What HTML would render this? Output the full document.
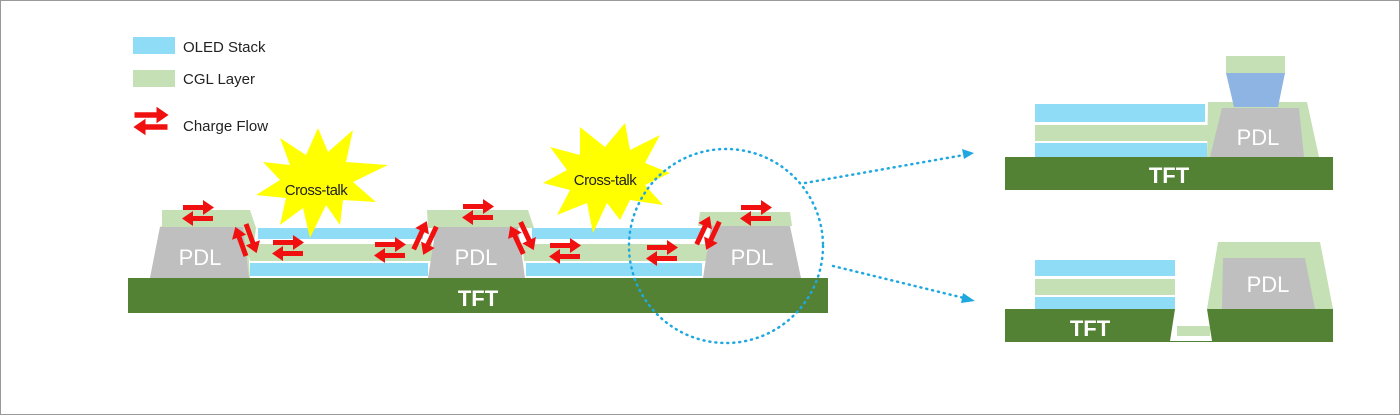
<!DOCTYPE html>
<html><head><meta charset="utf-8"><style>
html,body{margin:0;padding:0;background:#fff}
svg{display:block}
text{font-family:"Liberation Sans",Arial,sans-serif}
</style></head><body>
<svg width="1400" height="415" viewBox="0 0 1400 415" xmlns="http://www.w3.org/2000/svg">
<defs>
<g id="ap">
<path d="M-15,-8 L5,-8 L5,-13 L16,-5.5 L5,2 L5,-3 L-15,-3 Z" fill="#f01010"/>
<path d="M15,3 L-5,3 L-5,-2 L-16,5.5 L-5,13 L-5,8 L15,8 Z" fill="#f01010"/>
</g>
</defs>
<rect x="0.5" y="0.5" width="1399" height="414" fill="#fff" stroke="#999"/>
<!-- legend -->
<rect x="133" y="37" width="42" height="17" fill="#8fdcf6"/>
<text x="183" y="52" font-size="15" fill="#222">OLED Stack</text>
<rect x="133" y="70" width="42" height="17" fill="#c5e0b4"/>
<text x="183" y="84" font-size="15" fill="#222">CGL Layer</text>
<use href="#ap" transform="translate(151,121) scale(1.1)"/>
<text x="183" y="131" font-size="15" fill="#222">Charge Flow</text>

<!-- main TFT -->
<rect x="128" y="278" width="700" height="35" fill="#548235"/>
<text x="478" y="306" font-size="22" font-weight="bold" fill="#fff" text-anchor="middle">TFT</text>

<!-- layers span 1 -->
<rect x="258" y="228" width="165" height="11" fill="#8fdcf6"/>
<polygon points="246,244 432,244 436,261 250,261" fill="#c5e0b4"/>
<rect x="250" y="263" width="178" height="13" fill="#8fdcf6"/>
<!-- layers span 2 -->
<rect x="532" y="228" width="170" height="11" fill="#8fdcf6"/>
<polygon points="522,244 706,244 708,261 524,261" fill="#c5e0b4"/>
<rect x="526" y="263" width="176" height="13" fill="#8fdcf6"/>

<!-- PDLs -->
<polygon points="162,210 250,210 256,228 254,244 248,244 250,278 150,278 160,227 162,226" fill="#c5e0b4"/>
<polygon points="160,227 243,227 249,278 150,278" fill="#bfbfbf"/>
<text x="200" y="265" font-size="22" fill="#fff" text-anchor="middle">PDL</text>

<polygon points="427,210 528,210 534,228 428,228" fill="#c5e0b4"/>
<polygon points="436,227 518,227 525,278 428,278" fill="#bfbfbf"/>
<text x="476" y="265" font-size="22" fill="#fff" text-anchor="middle">PDL</text>

<polygon points="700,212 790,212 792,226 698,226" fill="#c5e0b4"/>
<polygon points="711,226 790,226 801,278 703,278" fill="#bfbfbf"/>
<text x="752" y="265" font-size="22" fill="#fff" text-anchor="middle">PDL</text>

<!-- starbursts -->
<polygon transform="translate(318,180)" fill="#ffff00" points="0,-52 10,-28 35,-50 28,-18 70,-15 35,2 58,22 25,20 22,45 8,25 -8,58 -15,28 -38,45 -32,18 -62,15 -38,0 -55,-18 -28,-15 -38,-42 -12,-25"/>
<text x="316" y="195" font-size="15" fill="#222" text-anchor="middle" letter-spacing="-0.5">Cross-talk</text>
<polygon transform="translate(605,175)" fill="#ffff00" points="20,-52 25,-25 55,-40 40,-12 65,-2 40,10 58,30 25,25 15,45 2,28 -12,58 -18,28 -48,40 -35,15 -62,8 -38,-5 -55,-28 -25,-20 -25,-48 0,-28"/>
<text x="605" y="185" font-size="15" fill="#222" text-anchor="middle" letter-spacing="-0.5">Cross-talk</text>

<!-- arrows -->
<use href="#ap" transform="translate(198,213)"/>
<use href="#ap" transform="translate(246,240) rotate(70)"/>
<use href="#ap" transform="translate(288,248)"/>
<use href="#ap" transform="translate(390,250)"/>
<use href="#ap" transform="translate(425,238) rotate(-65)"/>
<use href="#ap" transform="translate(478,212)"/>
<use href="#ap" transform="translate(522,238) rotate(65)"/>
<use href="#ap" transform="translate(565,251)"/>
<use href="#ap" transform="translate(662,253)"/>
<use href="#ap" transform="translate(708,233) rotate(-65)"/>
<use href="#ap" transform="translate(756,213)"/>

<!-- circle and dotted lines -->
<circle cx="726" cy="246" r="97" fill="none" stroke="#1fa8e0" stroke-width="2.5" stroke-dasharray="1 5" stroke-linecap="round"/>
<line x1="805" y1="183" x2="964" y2="155" stroke="#1fa8e0" stroke-width="2.5" stroke-dasharray="1 5" stroke-linecap="round"/>
<polygon points="974,153 962,149 964,159" fill="#1fa8e0"/>
<line x1="833" y1="266" x2="964" y2="298" stroke="#1fa8e0" stroke-width="2.5" stroke-dasharray="1 5" stroke-linecap="round"/>
<polygon points="975,301 963,293 961,303" fill="#1fa8e0"/>

<!-- top right detail -->
<rect x="1005" y="157" width="328" height="33" fill="#548235"/>
<text x="1169" y="183" font-size="22" font-weight="bold" fill="#fff" text-anchor="middle">TFT</text>
<rect x="1035" y="104" width="170" height="18" fill="#8fdcf6"/>
<rect x="1035" y="125" width="178" height="16" fill="#c5e0b4"/>
<rect x="1035" y="143" width="172" height="14" fill="#8fdcf6"/>
<polygon points="1208,102 1307,102 1319,157 1207,157" fill="#c5e0b4"/>
<polygon points="1222,108 1299,108 1304,157 1210,157" fill="#bfbfbf"/>
<text x="1258" y="145" font-size="22" fill="#fff" text-anchor="middle">PDL</text>
<rect x="1226" y="56" width="59" height="17" fill="#c5e0b4"/>
<polygon points="1226,73 1285,73 1278,107 1234,107" fill="#8db4e2"/>

<!-- bottom right detail -->
<rect x="1005" y="309" width="328" height="33" fill="#548235"/>
<text x="1090" y="336" font-size="22" font-weight="bold" fill="#fff" text-anchor="middle">TFT</text>
<polygon points="1175,309 1207,309 1212,341 1170,341" fill="#fff"/>
<rect x="1177" y="326" width="33" height="10" fill="#c5e0b4"/>
<rect x="1035" y="260" width="140" height="16" fill="#8fdcf6"/>
<rect x="1035" y="279" width="140" height="16" fill="#c5e0b4"/>
<rect x="1035" y="297" width="140" height="12" fill="#8fdcf6"/>
<polygon points="1218,242 1320,242 1333,309 1207,309" fill="#c5e0b4"/>
<polygon points="1223,258 1305,258 1315,309 1222,309" fill="#bfbfbf"/>
<text x="1268" y="292" font-size="22" fill="#fff" text-anchor="middle">PDL</text>
</svg>
</body></html>
